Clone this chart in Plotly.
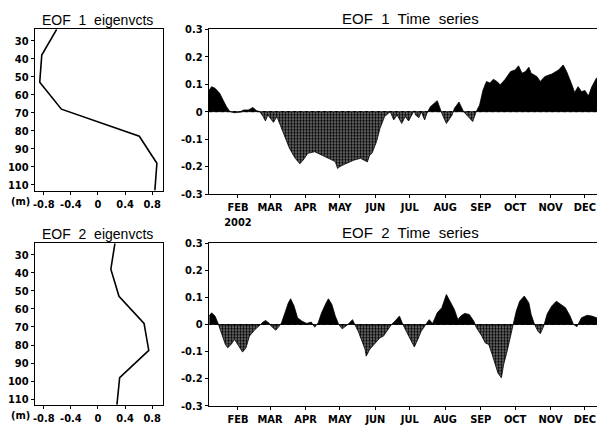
import numpy as np
import pandas as pd
import plotly.graph_objects as go

# ---------------- data ----------------
depth = [23.7, 38, 53, 68, 83, 98, 113]
eof1_vec = [-0.61, -0.83, -0.86, -0.54, 0.61, 0.87, 0.84]
eof2_vec = [0.25, 0.19, 0.31, 0.68, 0.75, 0.32, 0.28]

# day of year 2002, EOF 1 amplitude
ts1_day = [6, 9, 12, 16, 19, 22, 25, 29, 34, 37, 41, 45, 48, 51, 54, 56, 58, 63, 66, 69,
           73, 77, 82, 86, 89, 93, 99, 105, 111, 117, 119, 121, 126, 133, 139, 145, 147, 149,
           153, 156, 160, 163, 165, 168, 171, 175, 178, 181, 184, 186, 187, 190, 192, 195, 197,
           200, 206, 210, 214, 219, 221, 225, 229, 233, 237, 240, 243, 246, 249, 252, 255, 258,
           261, 265, 270, 274, 277, 280, 283, 286, 288, 293, 296, 300, 306, 312, 316, 319, 323,
           326, 329, 332, 335, 338, 341, 345, 350, 353]
ts1_val = [0.073, 0.091, 0.085, 0.067, 0.042, 0.018, 0.0, -0.004, 0.0, 0.006, 0.006, 0.015,
           0.004, 0.0, -0.018, -0.034, -0.012, -0.039, -0.018, -0.049,
           -0.097, -0.134, -0.17, -0.19, -0.176, -0.152, -0.146, -0.158, -0.17, -0.182, -0.207,
           -0.2, -0.19, -0.177, -0.17, -0.183, -0.158, -0.152,
           -0.109, -0.061, -0.018, -0.006, 0.0, -0.03, -0.012, -0.043, -0.018, -0.034, -0.006,
           0.003, -0.012, -0.022, 0.0, -0.03, -0.006,
           0.018, 0.04, -0.006, -0.043, -0.012, 0.012, 0.035, 0.0, -0.018, -0.036, 0.0, 0.024,
           0.079, 0.11, 0.104, 0.118, 0.11,
           0.098, 0.116, 0.146, 0.152, 0.167, 0.14, 0.146, 0.162, 0.14, 0.128, 0.11, 0.128,
           0.137, 0.152, 0.17, 0.146, 0.104,
           0.07, 0.091, 0.073, 0.077, 0.057, 0.091, 0.122, 0.128, 0.134]

# day of year 2002, EOF 2 amplitude
ts2_day = [7, 9, 12, 15, 18, 21, 23, 26, 29, 32, 36, 39, 42, 47, 51, 53, 56, 59, 61, 65,
           68, 70, 73, 76, 78, 81, 84, 88, 92, 96, 99, 102, 105, 109, 111, 114, 117, 120, 123,
           128, 132, 134, 137, 140, 143, 144, 147, 152, 156, 159, 162, 166, 169, 173, 176, 179,
           183, 186, 189, 192, 196, 199, 202, 206, 210, 214, 217, 221, 224, 227, 230, 234, 238,
           240, 245, 248, 251, 254, 257, 259, 262, 264, 267, 270, 272, 275, 278, 282, 286, 288,
           291, 294, 296, 299, 302, 306, 310, 314, 318, 322, 325, 328, 332, 337, 341, 345, 350,
           353]
ts2_val = [0.033, 0.043, 0.031, 0.0, -0.037, -0.074, -0.086, -0.074, -0.055, -0.074, -0.102,
           -0.086, -0.043, -0.018, -0.004, 0.006, 0.015, 0.006, -0.006, -0.021,
           -0.006, 0.006, 0.043, 0.08, 0.095, 0.068, 0.025, 0.012, 0.004, 0.009, -0.01, 0.006,
           0.043, 0.08, 0.095, 0.074, 0.031, 0.0, -0.016,
           0.0, 0.018, 0.0, -0.025, -0.055, -0.092, -0.117, -0.092, -0.068, -0.049, -0.043,
           -0.025, 0.0, 0.012, 0.031, 0.0, -0.025,
           -0.055, -0.083, -0.055, -0.025, 0.0, 0.018, 0.004, 0.043, 0.062, 0.111, 0.086, 0.055,
           0.018, 0.033, 0.041, 0.037, 0.012,
           -0.01, -0.043, -0.068, -0.074, -0.111, -0.154, -0.179, -0.197, -0.148, -0.099,
           -0.049, -0.006, 0.049, 0.086, 0.105, 0.08, 0.037,
           0.0, -0.025, -0.034, -0.006, 0.039, 0.068, 0.086, 0.074, 0.062, 0.031, 0.0, -0.008,
           0.025, 0.034, 0.031, 0.025, 0.031, 0.025]

month_ticks = ["2002-02-01", "2002-03-01", "2002-04-01", "2002-05-01", "2002-06-01",
               "2002-07-01", "2002-08-01", "2002-09-01", "2002-10-01", "2002-11-01",
               "2002-12-01"]
month_labels = ["FEB<br>2002", "MAR", "APR", "MAY", "JUN", "JUL", "AUG", "SEP", "OCT",
                "NOV", "DEC"]
depth_ticks = [30, 40, 50, 60, 70, 80, 90, 100, 110]
vec_ticks = [-0.8, -0.4, 0, 0.4, 0.8]
vec_ticktext = ["-0.8", "-0.4", "0", "0.4", "0.8"]
amp_ticks = [-0.3, -0.2, -0.1, 0, 0.1, 0.2, 0.3]
amp_ticktext = ["-0.3", "-0.2", "-0.1", "0", "0.1", "0.2", "0.3"]

# ---------------- helpers ----------------
BASE = pd.Timestamp("2002-01-01")


def to_date(d):
    return [BASE + pd.Timedelta(days=float(x) - 1) for x in d]


def split_sign(days, vals):
    """Split series into positive/negative parts, adding zero crossings."""
    xs, ys = [], []
    for i in range(len(days)):
        if i > 0:
            v0, v1 = vals[i - 1], vals[i]
            if v0 * v1 < 0:
                t = v0 / (v0 - v1)
                xs.append(days[i - 1] + t * (days[i] - days[i - 1]))
                ys.append(0.0)
        xs.append(days[i])
        ys.append(vals[i])
    ys = np.array(ys)
    pos = np.where(ys >= 0, ys, 0.0)
    neg = np.where(ys <= 0, ys, 0.0)
    return xs, pos, neg


TICKFONT = dict(family="Liberation Sans Narrow, DejaVu Sans Condensed, Arial", size=11,
                color="black", weight="bold")

# page body has an 8px margin: the figure starts at (8, 8) of the window
OFF = 8
W, H = 605 - OFF, 427 - OFF


def fx(px):
    return (px - OFF) / W


def fy(py):
    return 1 - (py - OFF) / H


fig = go.Figure()

# profiles
for i, vec in enumerate([eof1_vec, eof2_vec]):
    ax = "" if i == 0 else "3"
    fig.add_trace(go.Scatter(x=vec, y=depth, mode="lines",
                             line=dict(color="black", width=1.6),
                             xaxis="x" + ax, yaxis="y" + ax, showlegend=False))

# time series
for i, (d, v) in enumerate([(ts1_day, ts1_val), (ts2_day, ts2_val)]):
    ax = "2" if i == 0 else "4"
    xs, pos, neg = split_sign(d, v)
    dates = to_date(xs)
    fig.add_trace(go.Scatter(x=dates, y=neg, mode="lines", fill="tozeroy",
                             fillcolor="#444444",
                             fillpattern=dict(shape=".", fgcolor="#000000", bgcolor="#7a7a7a",
                                              size=3, solidity=0.5),
                             line=dict(color="black", width=0.8),
                             xaxis="x" + ax, yaxis="y" + ax, showlegend=False))
    fig.add_trace(go.Scatter(x=dates, y=pos, mode="lines", fill="tozeroy",
                             fillcolor="black",
                             line=dict(color="black", width=0.8),
                             xaxis="x" + ax, yaxis="y" + ax, showlegend=False))

prof_x = [fx(35), fx(163)]
ts_x = [fx(209), 1.0]
prof_y_top = [fy(190.7), fy(29.3)]
ts_y_top = [fy(194), fy(29.3)]
prof_y_bot = [fy(405), fy(243.3)]
ts_y_bot = [fy(405.7), fy(243.3)]

common_line = dict(showline=True, linecolor="black", linewidth=1.3, showgrid=False,
                   zeroline=False, ticks="outside", ticklen=3, tickcolor="black",
                   tickfont=TICKFONT, automargin=False)

date_range = [BASE + pd.Timedelta(days=5.7), BASE + pd.Timedelta(days=351.5)]

layout = dict(
    template="none",
    width=W, height=H, margin=dict(l=0, r=0, t=0, b=0, pad=0),
    paper_bgcolor="white", plot_bgcolor="white", showlegend=False,
)
for ax, dom_x, dom_y in [("", prof_x, prof_y_top), ("3", prof_x, prof_y_bot)]:
    layout["xaxis" + ax] = dict(domain=dom_x, range=[-0.93, 0.96], tickvals=vec_ticks,
                                ticktext=vec_ticktext, mirror=True,
                                anchor="y" + ax, **common_line)
    layout["yaxis" + ax] = dict(domain=dom_y, range=[113.2, 23.7], tickvals=depth_ticks,
                                mirror=True, anchor="x" + ax, **common_line)
for ax, dom_y in [("2", ts_y_top), ("4", ts_y_bot)]:
    layout["xaxis" + ax] = dict(domain=ts_x, range=date_range, type="date",
                                tickvals=month_ticks, ticktext=month_labels, mirror=True,
                                anchor="y" + ax, **common_line)
    layout["yaxis" + ax] = dict(domain=dom_y, range=[-0.3, 0.3], tickvals=amp_ticks,
                                ticktext=amp_ticktext, anchor="x" + ax, **common_line)

fig.update_layout(**layout)

# dotted zero lines
for ax in ["2", "4"]:
    fig.add_shape(type="line", xref="x" + ax + " domain", yref="y" + ax,
                  x0=0, x1=1, y0=0, y1=0, line=dict(color="black", width=1, dash="dot"))

# titles
titles = [
    ("EOF&nbsp; 1&nbsp; eigenvcts", 97, 20),
    ("EOF&nbsp; 2&nbsp; eigenvcts", 97, 234),
    ("EOF&nbsp; 1&nbsp; Time&nbsp; series", 410, 18),
    ("EOF&nbsp; 2&nbsp; Time&nbsp; series", 410, 232),
]
for txt, px, py in titles:
    size = 14 if "eigen" in txt else 15
    fig.add_annotation(text=txt, x=fx(px), y=fy(py), xref="paper", yref="paper",
                       showarrow=False, xanchor="center", yanchor="middle",
                       font=dict(family="Liberation Sans, Arial", size=size, color="black"))
for py in [201.7, 415.5]:
    fig.add_annotation(text="(m)", x=fx(20), y=fy(py), xref="paper", yref="paper",
                       showarrow=False, xanchor="center", yanchor="middle", font=TICKFONT)

fig.write_html("out.html")
